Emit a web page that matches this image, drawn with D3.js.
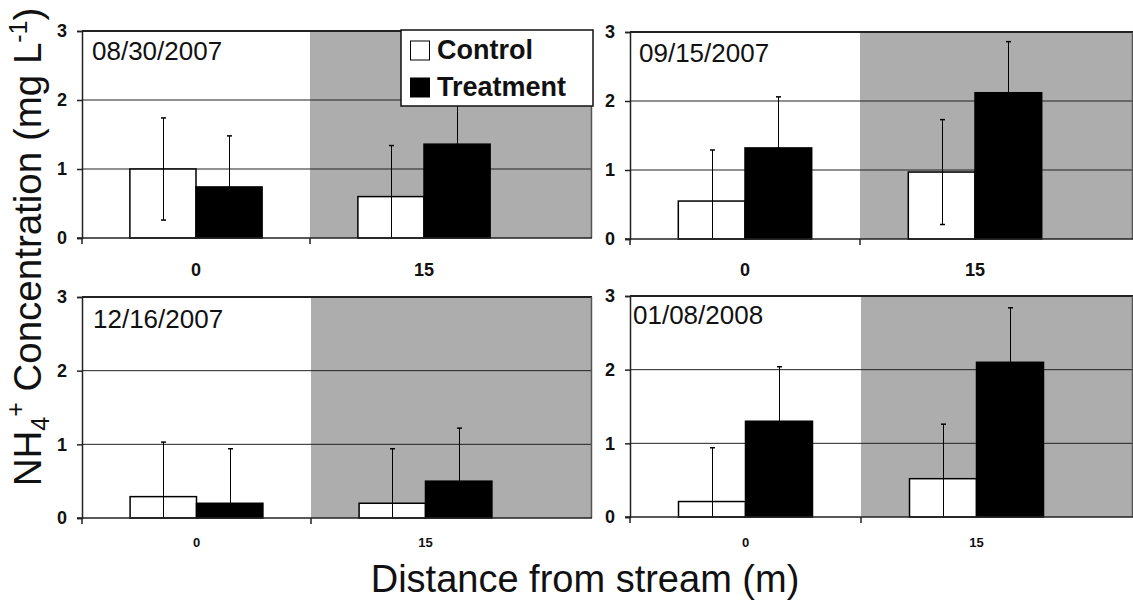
<!DOCTYPE html>
<html lang="en">
<head>
<meta charset="UTF-8">
<title>NH4+ Concentration</title>
<script src="https://d3js.org/d3.v7.min.js"></script>
<style>
  body { margin: 0; background: #fff; }
  svg { display: block; font-family: "Liberation Sans", Arial, sans-serif; }
  .grid line { stroke: #222; stroke-width: 1; }
</style>
</head>
<body>
<svg id="chart" width="1133" height="601"></svg>
<script>
// data
const dates = ["08/30/2007", "09/15/2007", "12/16/2007", "01/08/2008"];
const distances = ["0", "15"];
const series = ["Control", "Treatment"];
const controlMeans = [[1.00, 0.60], [0.55, 0.97], [0.29, 0.20], [0.21, 0.52]];
const controlErr = [[0.74, 0.74], [0.74, 0.76], [0.74, 0.74], [0.73, 0.74]];
const treatmentMeans = [[0.74, 1.36], [1.32, 2.12], [0.20, 0.50], [1.30, 2.10]];
const treatmentErr = [[0.74, 0.74], [0.74, 0.74], [0.74, 0.72], [0.74, 0.74]];
const yTicks = [0, 1, 2, 3];

// panel layout (pixels)
const panels = [
  { left: 82, right: 592, top: 31, bottom: 238, bandW: 228, labelDx: 10, labelDy: 29, xFont: 18, xBase: 276 },
  { left: 630, right: 1133, top: 32, bottom: 239, bandW: 230, labelDx: 9, labelDy: 30, xFont: 18, xBase: 276 },
  { left: 82, right: 592, top: 297, bottom: 518, bandW: 229, labelDx: 11, labelDy: 31, xFont: 13, xBase: 547 },
  { left: 630, right: 1133, top: 296, bottom: 517, bandW: 231, labelDx: 3, labelDy: 28, xFont: 13, xBase: 547 }
];

const svg = d3.select("#chart");
const fillFor = { Control: "#fff", Treatment: "#000" };

panels.forEach((p, i) => {
  const g = svg.append("g");

  const x = d3.scaleBand()
    .domain(distances)
    .range([p.left, p.left + p.bandW * distances.length])
    .padding(0);
  const inner = d3.scaleBand()
    .domain(series)
    .range([x.bandwidth() * 0.21, x.bandwidth() * 0.79]);
  const y = d3.scaleLinear().domain([0, 3]).range([p.bottom, p.top]);

  // shaded zone for the 15 m distance
  g.append("rect")
    .attr("x", x("15"))
    .attr("y", y(3))
    .attr("width", p.right - x("15"))
    .attr("height", y(0) - y(3))
    .attr("fill", "#adadad");

  // gridlines
  g.append("g").attr("class", "grid")
    .selectAll("line")
    .data(yTicks.filter(d => d > 0))
    .join("line")
    .attr("x1", p.left).attr("x2", p.right)
    .attr("y1", d => y(d)).attr("y2", d => y(d))
    .style("stroke-width", d => d === 3 ? 2 : 1);

  // right border of plot
  g.append("line")
    .attr("x1", p.right - 0.5).attr("x2", p.right - 0.5)
    .attr("y1", y(3)).attr("y2", y(0))
    .attr("stroke", "#555").attr("stroke-width", 1.5);

  const rows = distances.map((d, j) => ({
    dist: d,
    vals: [
      { s: "Control", v: controlMeans[i][j], e: controlErr[i][j] },
      { s: "Treatment", v: treatmentMeans[i][j], e: treatmentErr[i][j] }
    ]
  }));

  const grp = g.selectAll(".grp")
    .data(rows)
    .join("g")
    .attr("transform", d => `translate(${x(d.dist)},0)`);

  grp.selectAll("rect")
    .data(d => d.vals)
    .join("rect")
    .attr("x", d => inner(d.s))
    .attr("width", inner.bandwidth())
    .attr("y", d => y(d.v))
    .attr("height", d => y(0) - y(d.v))
    .attr("fill", d => fillFor[d.s])
    .attr("stroke", "#000")
    .attr("stroke-width", 1.5);

  // error bars (black, so the lower half disappears on black bars)
  const eb = grp.selectAll(".eb")
    .data(d => d.vals)
    .join("g")
    .attr("class", "eb")
    .attr("stroke", "#000")
    .attr("stroke-width", 1);
  const cx = d => Math.round(inner(d.s) + inner.bandwidth() / 2) + 0.5;
  eb.append("line")
    .attr("x1", cx).attr("x2", cx)
    .attr("y1", d => y(d.v + d.e))
    .attr("y2", d => y(Math.max(0, d.v - d.e)));
  eb.append("line")
    .attr("x1", d => cx(d) - 2.5).attr("x2", d => cx(d) + 2.5)
    .attr("y1", d => y(d.v + d.e)).attr("y2", d => y(d.v + d.e))
    .attr("stroke-width", 1.5);
  eb.filter(d => d.v - d.e > 0).append("line")
    .attr("x1", d => cx(d) - 2.5).attr("x2", d => cx(d) + 2.5)
    .attr("y1", d => y(d.v - d.e)).attr("y2", d => y(d.v - d.e))
    .attr("stroke-width", 1.5);

  // y axis
  const yAxis = g.append("g")
    .attr("transform", `translate(${p.left},0)`)
    .call(d3.axisLeft(y).tickValues(yTicks).tickFormat(d3.format("d")).tickSize(5).tickPadding(10));
  yAxis.select(".domain").attr("stroke", "#222").attr("stroke-width", 1.5);
  yAxis.selectAll(".tick line").attr("stroke", "#222").attr("stroke-width", 1.5);
  yAxis.selectAll(".tick text")
    .style("font-family", "'Liberation Sans', Arial, sans-serif")
    .style("font-size", "18px")
    .style("font-weight", "bold")
    .attr("fill", "#111");

  // x axis baseline and divider ticks
  g.append("line")
    .attr("x1", p.left - 5).attr("x2", p.right)
    .attr("y1", y(0)).attr("y2", y(0))
    .attr("stroke", "#222").attr("stroke-width", 1.5);
  g.selectAll(".xtick")
    .data(distances)
    .join("line")
    .attr("x1", d => x(d)).attr("x2", d => x(d))
    .attr("y1", y(0)).attr("y2", y(0) + 6)
    .attr("stroke", "#222").attr("stroke-width", 1.5);

  g.append("g")
    .selectAll("text")
    .data(distances)
    .join("text")
    .attr("x", d => x(d) + x.bandwidth() / 2)
    .attr("y", p.xBase)
    .attr("text-anchor", "middle")
    .style("font-size", p.xFont + "px")
    .style("font-weight", "bold")
    .attr("fill", "#111")
    .text(d => d);

  // date label
  g.append("text")
    .attr("x", p.left + p.labelDx)
    .attr("y", y(3) + p.labelDy)
    .style("font-size", "26px")
    .attr("fill", "#111")
    .text(dates[i]);
});

// legend
const legend = svg.append("g").attr("transform", "translate(401,30)");
legend.append("rect")
  .attr("width", 192).attr("height", 76)
  .attr("fill", "#fff").attr("stroke", "#111").attr("stroke-width", 1.5);
series.forEach((s, k) => {
  const ly = 11 + k * 37;
  legend.append("rect")
    .attr("x", 9.5).attr("y", ly)
    .attr("width", 19).attr("height", 19)
    .attr("fill", fillFor[s]).attr("stroke", "#000").attr("stroke-width", 1);
  legend.append("text")
    .attr("x", 36).attr("y", ly + 18)
    .style("font-size", "27px").style("font-weight", "bold")
    .attr("fill", "#111")
    .text(s);
});

// axis titles
svg.append("text")
  .attr("x", 585).attr("y", 592)
  .attr("text-anchor", "middle")
  .style("font-size", "38px")
  .attr("fill", "#111")
  .text("Distance from stream (m)");

const yt = svg.append("text")
  .attr("transform", "translate(41,247) rotate(-90)")
  .attr("text-anchor", "middle")
  .style("font-size", "38.5px")
  .attr("fill", "#111");
yt.append("tspan").text("NH");
yt.append("tspan").attr("dy", 8).style("font-size", "25px").text("4");
yt.append("tspan").attr("dy", -25).style("font-size", "25px").text("+");
yt.append("tspan").attr("dy", 17).text(" Concentration (mg L");
yt.append("tspan").attr("dy", -14).style("font-size", "25px").text("-1");
yt.append("tspan").attr("dy", 14).text(")");
</script>
</body>
</html>
